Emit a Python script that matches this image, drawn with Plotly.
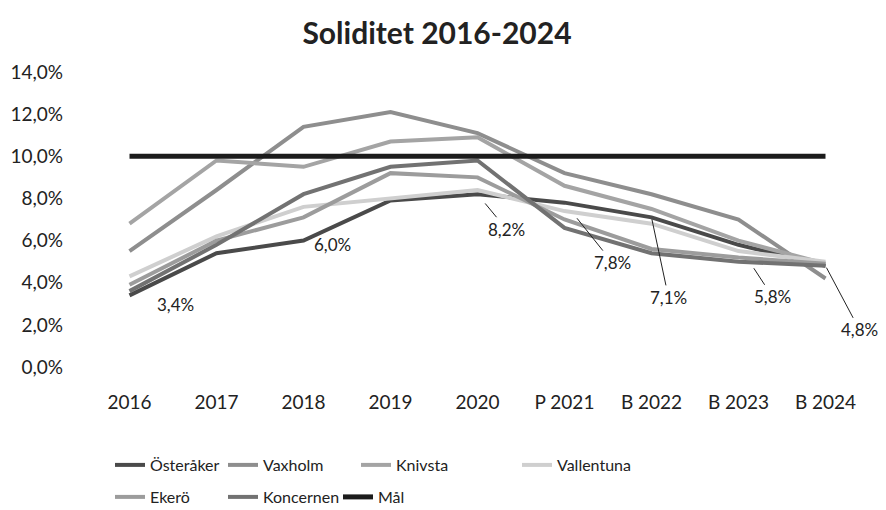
import plotly.graph_objects as go

# Categories (years; P = prognos, B = budget)
years = ["2016", "2017", "2018", "2019", "2020", "P 2021", "B 2022", "B 2023", "B 2024"]

# Soliditet per bolag, procent
osteraker = [3.4, 5.4, 6.0, 7.9, 8.2, 7.8, 7.1, 5.8, 4.8]
vaxholm = [5.5, 8.4, 11.4, 12.1, 11.1, 9.2, 8.2, 7.0, 4.2]
knivsta = [6.8, 9.8, 9.5, 10.7, 10.9, 8.6, 7.5, 6.0, 4.9]
vallentuna = [4.3, 6.2, 7.6, 8.0, 8.4, 7.4, 6.8, 5.5, 5.0]
ekero = [3.9, 6.0, 7.1, 9.2, 9.0, 7.0, 5.6, 5.2, 4.9]
koncernen = [3.6, 5.8, 8.2, 9.5, 9.8, 6.6, 5.4, 5.0, 4.8]
mal = [10.0, 10.0, 10.0, 10.0, 10.0, 10.0, 10.0, 10.0, 10.0]

FONT = "Lato"
TXT = "#222222"

series = [
    ("Österåker", osteraker, "#4a4a4a", 4),
    ("Vaxholm", vaxholm, "#8e8e8e", 4),
    ("Knivsta", knivsta, "#a4a4a4", 4),
    ("Vallentuna", vallentuna, "#cfcfcf", 4),
    ("Ekerö", ekero, "#9c9c9c", 4),
    ("Koncernen", koncernen, "#727272", 4),
    ("Mål", mal, "#1c1c1c", 5),
]

# plot area in pixels
L, R, T, B = 86, 17, 72, 143
W, H = 886, 510
pw, ph = W - L - R, H - T - B


def px_x(p):
    return (p - L) / pw


def px_y(p):
    return (H - B - p) / ph


# legend entry positions (left x, centre y) in pixels
legend_pos = [(110, 465), (223, 465), (356, 465), (517, 465),
              (110, 497), (223, 497), (338, 497)]

fig = go.Figure()
layout_legends = {}
for i, (name, vals, col, w) in enumerate(series):
    lg = "legend" if i == 0 else f"legend{i + 1}"
    fig.add_trace(go.Scatter(
        x=years, y=vals, name=name, mode="lines",
        line=dict(color=col, width=w),
        legend=lg, showlegend=True, hoverinfo="skip",
    ))
    lx, ly = legend_pos[i]
    layout_legends[lg] = dict(
        x=px_x(lx), y=px_y(ly), xanchor="left", yanchor="middle",
        orientation="h", bgcolor="rgba(0,0,0,0)",
        font=dict(family=FONT, size=16, color=TXT),
        itemwidth=30,
    )

# data labels for Österåker: (index, x offset, y offset, standoff)
label_specs = [
    (0, 46, 9, None),
    (2, 29, 4, None),
    (4, 29, 35, 12),
    (5, 48, 60, 20),
    (6, 17, 80, 2),
    (7, 34, 52, 28),
    (8, 34, 64, 2),
]
for idx, dx, dy, so in label_specs:
    txt = f"{osteraker[idx]:.1f}%".replace(".", ",")
    if so is None:
        fig.add_annotation(x=idx, y=osteraker[idx], text=txt,
                           showarrow=False, xshift=dx, yshift=-dy,
                           font=dict(family=FONT, size=17, color=TXT))
    else:
        fig.add_annotation(x=idx, y=osteraker[idx], text=txt,
                           showarrow=True, arrowhead=0, arrowwidth=1,
                           arrowcolor=TXT, ax=dx, ay=dy, standoff=so,
                           font=dict(family=FONT, size=17, color=TXT))

fig.update_layout(
    width=W, height=H,
    margin=dict(l=L, r=R, t=T, b=B, autoexpand=False),
    showlegend=True,
    paper_bgcolor="white", plot_bgcolor="white",
    separators=", ",
    title=dict(text="<b>Soliditet 2016-2024</b>", xref="container", yref="container",
               x=437 / W, y=1 - 33 / H, xanchor="center", yanchor="middle",
               font=dict(family=FONT, size=30, color=TXT)),
    xaxis=dict(type="category", range=[-0.5, 8.5], showgrid=False, zeroline=False,
               showline=False, ticks="", ticklabelstandoff=22,
               tickfont=dict(family=FONT, size=19, color=TXT)),
    yaxis=dict(range=[0, 14], dtick=2, tick0=0, tickformat=".1f", ticksuffix="%",
               showgrid=False, zeroline=False, showline=False, ticks="",
               ticklabelstandoff=22,
               tickfont=dict(family=FONT, size=19, color=TXT)),
    **layout_legends,
)

fig.write_html("out.html")
